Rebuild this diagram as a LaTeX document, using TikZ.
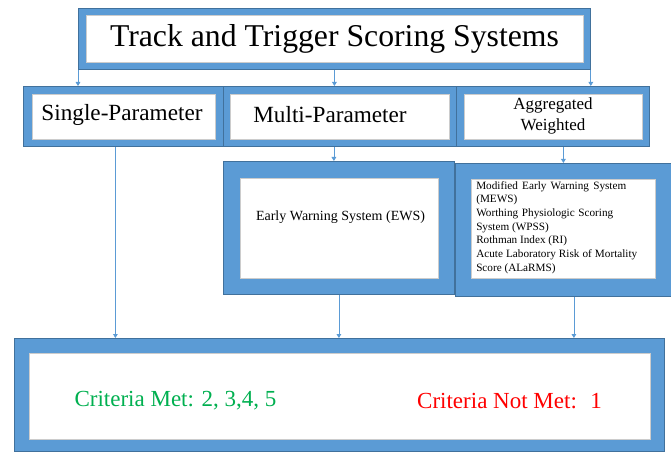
\documentclass[tikz,border=0pt]{standalone}
\usepackage{fontspec}
\setmainfont{Liberation Serif}
\newfontfamily\timesfont{Liberation Serif}
\usetikzlibrary{arrows.meta}

\newlength\pxu
\setlength\pxu{0.75pt}
\definecolor{boxblue}{HTML}{5B9BD5}
\definecolor{edgeblue}{HTML}{41719C}
\definecolor{metgreen}{HTML}{00B050}
\definecolor{notred}{HTML}{FF0000}

\begin{document}
\begin{tikzpicture}[%
        x = 0.75pt,
        y = -0.75pt,
        > = {Triangle[width=3.5pt, length=3pt]},
        outer/.style = {draw = edgeblue, fill = boxblue, line width = 0.6pt,
            anchor = north west, inner sep = 0pt},
        inner/.style = {draw = black!20, fill = white, line width = 0.5pt,
            anchor = north west, inner sep = 0pt},
        link/.style = {draw = boxblue, ->, line width = 0.6pt}
    ]

        % Fix the page to the size of the reference.
        \useasboundingbox (0,0) rectangle (671,452);

        % Title box.
        \node[outer, minimum width = 512\pxu, minimum height = 61\pxu] (track) at (78,8) {};
        \node[inner, minimum width = 497\pxu, minimum height = 47\pxu] (trackin) at (86,15) {};
        \node[font = \timesfont\fontsize{23.8}{28}\selectfont] (tracktext) at (334.5,39)
            {Track and Trigger Scoring Systems};

        % Row of the three kinds of system.
        \node[outer, minimum width = 200\pxu, minimum height = 60\pxu] (single) at (23,86) {};
        \node[outer, minimum width = 233\pxu, minimum height = 60\pxu] (multi) at (223,86) {};
        \node[outer, minimum width = 193\pxu, minimum height = 60\pxu] (agg) at (456,86) {};
        \node[inner, minimum width = 183\pxu, minimum height = 45\pxu] (singlein) at (32,94) {};
        \node[inner, minimum width = 219\pxu, minimum height = 45\pxu] (multiin) at (230,94) {};
        \node[inner, minimum width = 178\pxu, minimum height = 45\pxu] (aggin) at (464,94) {};
        \node[font = \timesfont\fontsize{17.4}{20}\selectfont] (singletext) at (122,115) {Single-Parameter};
        \node[font = \timesfont\fontsize{17.4}{20}\selectfont] (multitext) at (330,115) {Multi-Parameter};
        \node[font = \timesfont\fontsize{12.75}{15.75}\selectfont, align = center] (aggtext) at (553,116)
            {Aggregated\\Weighted};

        % Boxes with the systems of each kind.
        \node[outer, minimum width = 231\pxu, minimum height = 133\pxu] (ews) at (223,161) {};
        \node[inner, minimum width = 198\pxu, minimum height = 100\pxu] (ewsin) at (240,178) {};
        \node[font = \timesfont\fontsize{10.5}{12}\selectfont] (ewstext) at (340.5,217)
            {\makebox[169\pxu][s]{Early Warning System (EWS)}};

        \node[outer, minimum width = 216\pxu, minimum height = 133\pxu] (list) at (455,163) {};
        \node[inner, minimum width = 184\pxu, minimum height = 99\pxu] (listin) at (471,179) {};
        \node[%
            font = \timesfont\fontsize{8.4}{10.3}\selectfont,
            align = left,
            anchor = west,
            inner sep = 0pt
        ] (listtext) at (476,227.5) {%
            \makebox[150\pxu][s]{Modified Early Warning System}\\
            (MEWS)\\
            \makebox[137\pxu][s]{Worthing Physiologic Scoring}\\
            System (WPSS)\\
            Rothman Index (RI)\\
            \makebox[161\pxu][s]{Acute Laboratory Risk of Mortality}\\
            Score (ALaRMS)};

        % Box with the criteria.
        \node[outer, minimum width = 650\pxu, minimum height = 113\pxu] (crit) at (14,338) {};
        \node[inner, minimum width = 621\pxu, minimum height = 86\pxu] (critin) at (29,353) {};
        \node[font = \timesfont\fontsize{17.25}{20}\selectfont, text = metgreen] (mettext) at (175.5,401)
            {Criteria Met: 2, 3,4, 5};
        \node[font = \timesfont\fontsize{17.25}{20}\selectfont, text = notred] (nottext) at (509.5,401)
            {Criteria Not Met:~ 1};

        % Arrows from the title to the row.
        \draw[link] (track.south west) -- (track.south west |- single.north);
        \draw[link] (track.south) -- (track.south |- multi.north);
        \draw[link] (track.south east) -- (track.south east |- agg.north);

        % Arrows from the row down.
        \draw[link] ([xshift = -8\pxu]single.south) -- ([xshift = -8\pxu]single.south |- crit.north);
        \draw[link] ([xshift = -6\pxu]multi.south) -- ([xshift = -6\pxu]multi.south |- ews.north);
        \draw[link] ([xshift = 10.5\pxu]agg.south) -- ([xshift = 10.5\pxu]agg.south |- list.north);

        % Arrows to the criteria.
        \draw[link] (ews.south) -- (ews.south |- crit.north);
        \draw[link] ([xshift = 10.5\pxu]list.south) -- ([xshift = 10.5\pxu]list.south |- crit.north);
    \end{tikzpicture}
\end{document}
